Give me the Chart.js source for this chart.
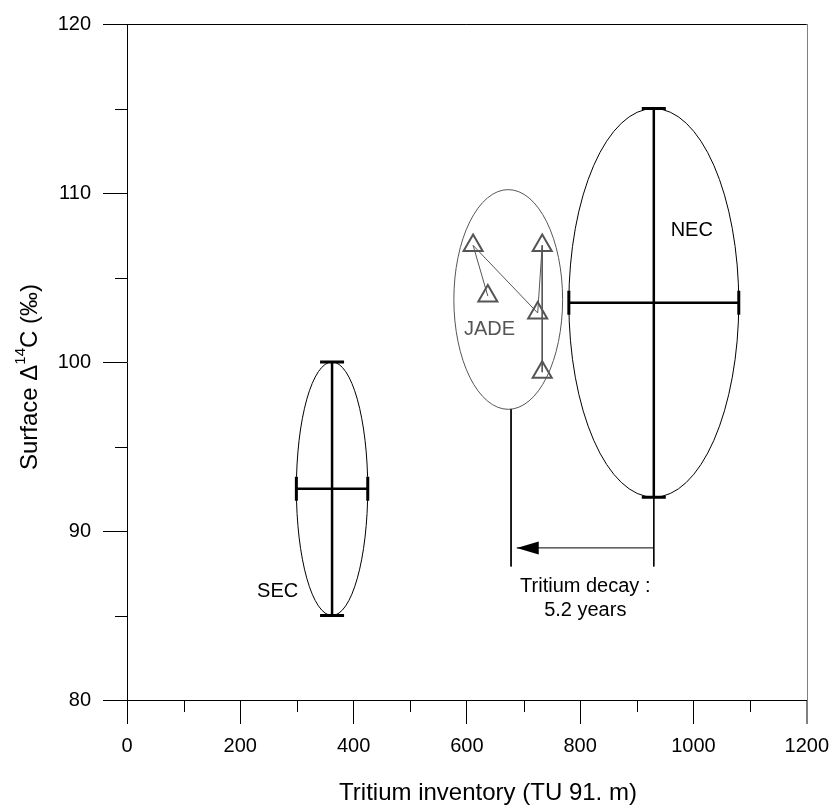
<!DOCTYPE html>
<html>
<head>
<meta charset="utf-8">
<script src="https://cdn.jsdelivr.net/npm/chart.js@4.4.1/dist/chart.umd.min.js"></script>
<style>
  html, body { margin: 0; padding: 0; background: #fff; }
</style>
</head>
<body>
<canvas id="chart" width="839" height="811"></canvas>
<script>
// tick labels
const xTicks = [0, 200, 400, 600, 800, 1000, 1200];
const yTicks = [80, 90, 100, 110, 120];

// error bars (tritium inventory, surface D14C)
const secVertical = [{x: 362, y: 85}, {x: 362, y: 100}];
const secHorizontal = [{x: 299, y: 92.5}, {x: 425, y: 92.5}];
const necVertical = [{x: 930, y: 92}, {x: 930, y: 115}];
const necHorizontal = [{x: 780, y: 103.5}, {x: 1080, y: 103.5}];

// JADE stations
const jadePoints = [
  {x: 611, y: 106.9},
  {x: 637, y: 103.9},
  {x: 733, y: 106.9},
  {x: 725, y: 102.9},
  {x: 733, y: 99.4}
];
const jadePath = [1, 0, 3, 2, 4]; // order the stations are joined in

// ellipses: centre and half widths in data units
const ellipseNames = ['SEC', 'NEC', 'JADE'];
const ellipseCenters = [{x: 362, y: 92.5}, {x: 930, y: 103.5}, {x: 673, y: 103.7}];
const ellipseHalfWidths = [{x: 63, y: 7.5}, {x: 150, y: 11.5}, {x: 96, y: 6.5}];

// tritium decay arrow
const jadeDrop = [{x: 678, y: 97.2}, {x: 678, y: 87.9}];
const necDrop = [{x: 930, y: 92}, {x: 930, y: 87.9}];
const decayArrow = [{x: 930, y: 89}, {x: 688, y: 89}];

const FONT = 'Arial, "Liberation Sans", sans-serif';

// text placed in data units
const notes = [
  {text: 'SEC', x: 266, y: 86.4, color: '#000'},
  {text: 'NEC', x: 997, y: 107.8, color: '#000'},
  {text: 'JADE', x: 640, y: 101.9, color: '#555'},
  {text: 'Tritium decay :', x: 809, y: 86.7, color: '#000'},
  {text: '5.2 years', x: 809, y: 85.3, color: '#000'}
];
const ellipseColors = ['#000', '#000', '#555'];

function errorBar(data, rotation) {
  return {
    data: data,
    showLine: true,
    borderColor: '#000',
    borderWidth: 2.5,
    pointStyle: 'line',
    pointRadius: 12,
    pointHoverRadius: 12,
    pointBorderWidth: 3,
    pointBorderColor: '#000',
    pointRotation: rotation
  };
}

function thinLine(data, color) {
  return {
    data: data,
    showLine: true,
    borderColor: color,
    borderWidth: 1,
    pointRadius: 0
  };
}

const extras = {
  id: 'extras',
  beforeDatasetsDraw(chart) {
    const ctx = chart.ctx;
    const xs = chart.scales.x, ys = chart.scales.y;
    ctx.save();
    ellipseCenters.forEach((c, i) => {
      const px = xs.getPixelForValue(c.x), py = ys.getPixelForValue(c.y);
      const rx = Math.abs(xs.getPixelForValue(c.x + ellipseHalfWidths[i].x) - px);
      const ry = Math.abs(ys.getPixelForValue(c.y + ellipseHalfWidths[i].y) - py);
      ctx.beginPath();
      ctx.ellipse(px, py, rx, ry, 0, 0, Math.PI * 2);
      ctx.strokeStyle = ellipseColors[i];
      ctx.lineWidth = 1;
      ctx.stroke();
    });
    ctx.restore();
  },
  afterDraw(chart) {
    const ctx = chart.ctx;
    const xs = chart.scales.x, ys = chart.scales.y;
    const area = chart.chartArea;
    ctx.save();

    // frame: top black, right grey
    ctx.lineWidth = 1;
    ctx.strokeStyle = '#000';
    ctx.beginPath();
    ctx.moveTo(area.left, Math.round(area.top) + 0.5);
    ctx.lineTo(area.right, Math.round(area.top) + 0.5);
    ctx.stroke();
    ctx.strokeStyle = '#808080';
    ctx.beginPath();
    ctx.moveTo(Math.round(area.right) + 0.5, area.top);
    ctx.lineTo(Math.round(area.right) + 0.5, area.bottom + 24);
    ctx.stroke();

    // minor ticks
    ctx.strokeStyle = '#000';
    xs.ticks.forEach(t => {
      if (xTicks.includes(t.value)) return;
      const px = Math.round(xs.getPixelForValue(t.value)) + 0.5;
      ctx.beginPath();
      ctx.moveTo(px, area.bottom);
      ctx.lineTo(px, area.bottom + 12);
      ctx.stroke();
    });
    ys.ticks.forEach(t => {
      if (yTicks.includes(t.value)) return;
      const py = Math.round(ys.getPixelForValue(t.value)) + 0.5;
      ctx.beginPath();
      ctx.moveTo(area.left - 12, py);
      ctx.lineTo(area.left, py);
      ctx.stroke();
    });

    // arrow head at the end of the decay arrow
    const tip = decayArrow[decayArrow.length - 1];
    const tx = xs.getPixelForValue(tip.x), ty = ys.getPixelForValue(tip.y);
    ctx.fillStyle = '#000';
    ctx.beginPath();
    ctx.moveTo(tx, ty);
    ctx.lineTo(tx + 22, ty - 6.5);
    ctx.lineTo(tx + 22, ty + 6.5);
    ctx.closePath();
    ctx.fill();

    // labels
    ctx.font = '20px ' + FONT;
    ctx.textAlign = 'center';
    ctx.textBaseline = 'middle';
    notes.forEach(n => {
      ctx.fillStyle = n.color;
      ctx.fillText(n.text, xs.getPixelForValue(n.x), ys.getPixelForValue(n.y));
    });

    // axis titles
    ctx.fillStyle = '#000';
    ctx.font = '24px ' + FONT;
    ctx.fillText('Tritium inventory (TU 91. m)', 488, 793);

    ctx.translate(30, 377);
    ctx.rotate(-Math.PI / 2);
    ctx.textAlign = 'left';
    const big = '24px ' + FONT, small = '15px ' + FONT;
    const parts = [['Surface \u0394', big, 0], ['14', small, -9], ['C (\u2030)', big, 0]];
    let total = 0;
    parts.forEach(p => { ctx.font = p[1]; total += ctx.measureText(p[0]).width; });
    let cx = -total / 2;
    parts.forEach(p => {
      ctx.font = p[1];
      ctx.fillText(p[0], cx, p[2]);
      cx += ctx.measureText(p[0]).width;
    });
    ctx.restore();
  }
};

new Chart(document.getElementById('chart'), {
  type: 'scatter',
  data: {
    datasets: [
      errorBar(secVertical, 0),
      errorBar(secHorizontal, 90),
      errorBar(necVertical, 0),
      errorBar(necHorizontal, 90),
      {
        data: jadePoints,
        pointStyle: 'triangle',
        pointRadius: 11,
        pointHoverRadius: 11,
        pointBorderWidth: 2,
        pointBorderColor: '#555',
        pointBackgroundColor: 'rgba(0,0,0,0)'
      },
      thinLine(jadePath.map(i => jadePoints[i]), '#555'),
      thinLine(jadeDrop, '#000'),
      thinLine(necDrop, '#000'),
      thinLine(decayArrow, '#000')
    ]
  },
  options: {
    responsive: false,
    animation: false,
    devicePixelRatio: 1,
    layout: { padding: { top: 16, right: 27, left: 0, bottom: 0 } },
    plugins: { legend: { display: false }, tooltip: { enabled: false } },
    scales: {
      x: {
        type: 'linear',
        min: 0,
        max: 1200,
        afterFit(scale) { scale.height = 111; },
        border: { display: true, color: '#000', width: 1 },
        grid: {
          drawOnChartArea: false,
          tickLength: 24,
          tickWidth: 1,
          tickColor: c => c.tick.value === 1200 ? '#808080' : (xTicks.includes(c.tick.value) ? '#000' : 'rgba(0,0,0,0)')
        },
        ticks: {
          stepSize: 100,
          autoSkip: false,
          maxRotation: 0,
          padding: 10,
          color: '#000',
          font: { family: FONT, size: 20 },
          callback: v => xTicks.includes(v) ? String(v) : ''
        }
      },
      y: {
        type: 'linear',
        min: 80,
        max: 120,
        afterFit(scale) { scale.width = 127; },
        border: { display: true, color: '#000', width: 1 },
        grid: {
          drawOnChartArea: false,
          tickLength: 24,
          tickWidth: 1,
          tickColor: c => yTicks.includes(c.tick.value) ? '#000' : 'rgba(0,0,0,0)'
        },
        ticks: {
          stepSize: 5,
          autoSkip: false,
          padding: 12,
          color: '#000',
          font: { family: FONT, size: 20 },
          callback: v => yTicks.includes(v) ? String(v) : ''
        }
      }
    }
  },
  plugins: [extras]
});
</script>
</body>
</html>
